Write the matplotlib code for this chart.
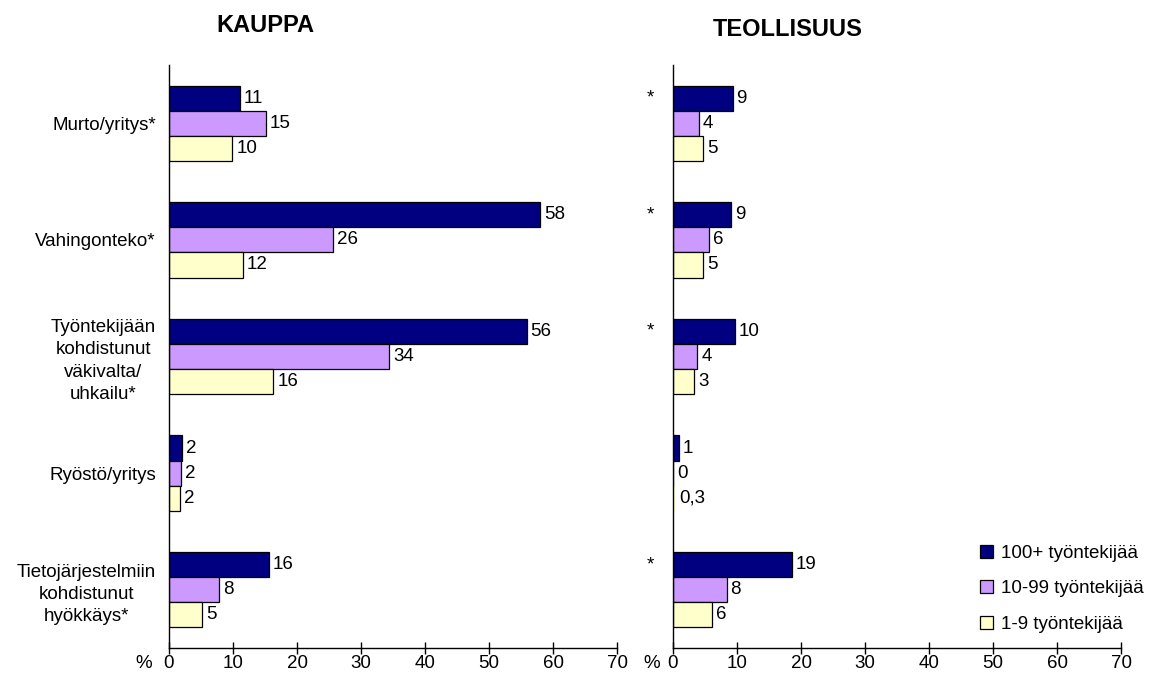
import matplotlib
matplotlib.use("Agg")
import matplotlib.pyplot as plt
import numpy as np

plt.rcParams['font.family'] = ['Liberation Sans', 'DejaVu Sans']

categories = ["Murto/yritys*", "Vahingonteko*",
              "Työntekijään\nkohdistunut\nväkivalta/\nuhkailu*",
              "Ryöstö/yritys",
              "Tietojärjestelmiin\nkohdistunut\nhyökkäys*"]
series_names = ["100+ työntekijää", "10-99 työntekijää", "1-9 työntekijää"]

kauppa_100 = [11.1, 58.0, 55.9, 2.0, 15.6]
kauppa_10 = [15.1, 25.6, 34.4, 1.9, 7.8]
kauppa_1 = [9.9, 11.6, 16.3, 1.7, 5.2]
kauppa_lbl_100 = ["11", "58", "56", "2", "16"]
kauppa_lbl_10 = ["15", "26", "34", "2", "8"]
kauppa_lbl_1 = ["10", "12", "16", "2", "5"]

teoll_100 = [9.3, 9.1, 9.7, 0.9, 18.6]
teoll_10 = [4.1, 5.6, 3.8, 0.0, 8.4]
teoll_1 = [4.7, 4.7, 3.3, 0.3, 6.1]
teoll_lbl_100 = ["9", "9", "10", "1", "19"]
teoll_lbl_10 = ["4", "6", "4", "0", "8"]
teoll_lbl_1 = ["5", "5", "3", "0,3", "6"]
teoll_star = ["*", "*", "*", "", "*"]

xticks = [0, 10, 20, 30, 40, 50, 60, 70]
colors = ["#000080", "#CC99FF", "#FFFFCC"]
FS = 13.5
FSY = 13.5

fig = plt.figure(figsize=(11.52, 6.84), dpi=100)
axL = fig.add_axes([169/1152, 1-648/684, 448/1152, 583/684])
axR = fig.add_axes([673/1152, 1-648/684, 448/1152, 583/684])

y = np.arange(len(categories))
h = 0.215
offsets = [-h, 0, h]

def draw(ax, vals, lbls):
    handles = []
    for i, (v, l) in enumerate(zip(vals, lbls)):
        lw = [0.9 if vv >= 0.5 or vv == 0 else 0 for vv in v]
        bars = ax.barh(y + offsets[i], v, height=h, color=colors[i],
                       edgecolor="black", linewidth=lw, label=series_names[i])
        handles.append(bars)
        for yy, vv, ll in zip(y + offsets[i], v, l):
            ax.text(vv + 0.6, yy, ll, va="center", ha="left", fontsize=FS)
    ax.set_ylim(len(categories) - 0.5, -0.5)
    ax.set_xlim(0, 70)
    for s in ["top", "right"]:
        ax.spines[s].set_visible(False)
    ax.spines["left"].set_linewidth(1.0)
    ax.spines["bottom"].set_linewidth(1.0)
    ax.set_xticks(xticks)
    ax.set_xticklabels([str(t) for t in xticks], fontsize=FS)
    ax.tick_params(axis="x", direction="inout", length=8.5, width=1, pad=1)
    ax.tick_params(axis="y", length=0)
    return handles

draw(axL, [kauppa_100, kauppa_10, kauppa_1],
     [kauppa_lbl_100, kauppa_lbl_10, kauppa_lbl_1])
hR = draw(axR, [teoll_100, teoll_10, teoll_1],
          [teoll_lbl_100, teoll_lbl_10, teoll_lbl_1])

axL.set_yticks(y)
axL.set_yticklabels(categories, fontsize=FSY, multialignment="center",
                    linespacing=1.4)
axL.tick_params(axis="y", pad=9.5)
axR.set_yticks([])

for yy, s in zip(y, teoll_star):
    if s:
        axR.text(-3.6, yy - h, s, ha="center", va="center", fontsize=FS)

fig.text(652/1152, 1-663/684, "%", ha="center", va="center", fontsize=FS)
fig.text(144/1152, 1-663/684, "%", ha="center", va="center", fontsize=FS)

fig.text(265/1152, 1-25/684, "KAUPPA", ha="center", va="center",
         fontsize=17, fontweight="bold")
fig.text(788/1152, 1-30/684, "TEOLLISUUS", ha="center", va="center",
         fontsize=17, fontweight="bold")

fig.legend(handles=hR, labels=series_names, loc="upper left",
           bbox_to_anchor=(980/1152, 1-545/684), frameon=False,
           fontsize=FS, labelspacing=0.97, handlelength=0.7, handleheight=0.7,
           handletextpad=0.4, borderpad=0, borderaxespad=0)

fig.savefig("out.png", dpi=100)
